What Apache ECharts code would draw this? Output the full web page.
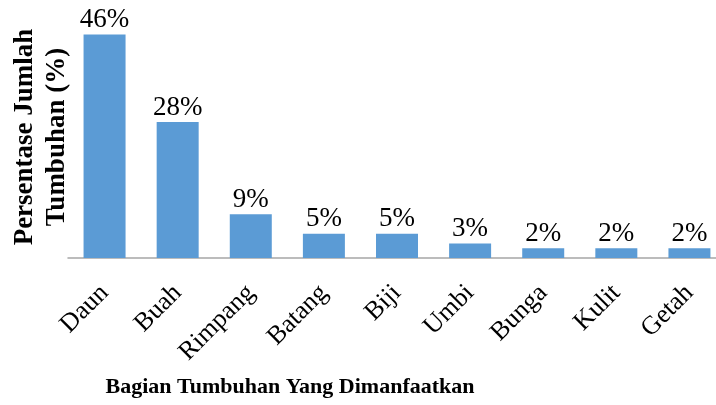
<!DOCTYPE html>
<html>
<head>
<meta charset="utf-8">
<script src="https://cdn.jsdelivr.net/npm/echarts@6/dist/echarts.min.js"></script>
<style>
  html, body { margin: 0; padding: 0; background: #fff; }
  #chart { width: 716px; height: 405px; }
</style>
</head>
<body>
<div id="chart"></div>
<script>
const categories = ['Daun', 'Buah', 'Rimpang', 'Batang', 'Biji', 'Umbi', 'Bunga', 'Kulit', 'Getah'];
const percentValues = [46, 28, 9, 5, 5, 3, 2, 2, 2];

const serif = '"Liberation Serif", "DejaVu Serif", serif';
const myChart = echarts.init(document.getElementById('chart'));

const option = {
  animation: false,
  grid: {
    left: 68,
    right: -10,
    top: 15,
    bottom: 147,
    containLabel: false,
    outerBoundsMode: 'none',
  },
  xAxis: {
    type: 'category',
    data: categories,
    axisLine: {
      lineStyle: { color: '#a6a6a6', width: 1.5 },
    },
    axisTick: { show: false },
    axisLabel: {
      interval: 0,
      rotate: 45,
      margin: 31,
      color: '#000',
      fontFamily: serif,
      fontSize: 26,
    },
  },
  yAxis: {
    type: 'value',
    min: 0,
    max: 50,
    axisLine: { show: false },
    axisTick: { show: false },
    axisLabel: { show: false },
    splitLine: { show: false },
  },
  graphic: [
    {
      // y axis title
      type: 'text',
      x: 41,
      y: 137,
      rotation: Math.PI / 2,
      style: {
        text: 'Persentase Jumlah\nTumbuhan (%)',
        align: 'center',
        verticalAlign: 'middle',
        lineHeight: 32,
        fill: '#000',
        font: 'bold 27px ' + serif,
      },
    },
    {
      // x axis title
      type: 'text',
      x: 290,
      y: 387,
      style: {
        text: 'Bagian Tumbuhan Yang Dimanfaatkan',
        align: 'center',
        verticalAlign: 'middle',
        fill: '#000',
        font: 'bold 22px ' + serif,
      },
    },
  ],
  series: [
    {
      type: 'bar',
      data: percentValues,
      barWidth: 42,
      itemStyle: { color: '#5b9bd5' },
      label: {
        show: true,
        position: 'top',
        distance: 1,
        formatter: '{c}%',
        color: '#000',
        fontFamily: serif,
        fontSize: 27,
      },
    },
  ],
};
myChart.setOption(option);
</script>
</body>
</html>
